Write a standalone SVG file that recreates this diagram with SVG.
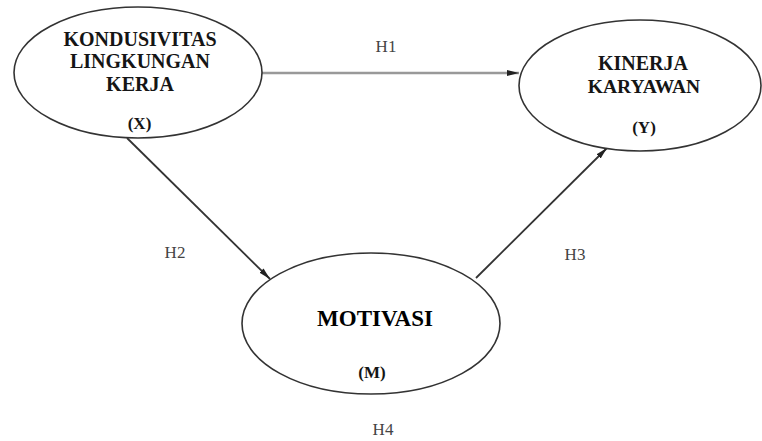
<svg xmlns="http://www.w3.org/2000/svg" width="762" height="441" viewBox="0 0 762 441">
<defs>
<style>
.node ellipse{fill:#fff;stroke:#333;stroke-width:1.6}
.t{font-family:'Liberation Serif','DejaVu Serif',serif;font-weight:bold;fill:#151515;text-anchor:middle}
.h{font-family:'Liberation Serif','DejaVu Serif',serif;font-size:17px;fill:#444;text-anchor:middle}
.c line{stroke:#333;stroke-width:1.8}
</style>
<marker id="ah" viewBox="0 0 12 6" refX="12" refY="3" markerWidth="12" markerHeight="6" markerUnits="userSpaceOnUse" orient="auto">
<path d="M0,0 L12,3 L0,6 z" fill="#222"/>
</marker>
</defs>
<rect width="762" height="441" fill="#fff"/>
<g id="connectors" class="c">
<line x1="262" y1="73" x2="519" y2="73" style="stroke:#999;stroke-width:2.4" marker-end="url(#ah)"/>
<line x1="127" y1="138" x2="270" y2="279" marker-end="url(#ah)"/>
<line x1="476" y1="278" x2="607" y2="148" marker-end="url(#ah)"/>
</g>
<g id="node-x" class="node">
<ellipse cx="138" cy="72.5" rx="124" ry="65.5"/>
<text class="t" x="140" y="46" font-size="20">KONDUSIVITAS</text>
<text class="t" x="140" y="68" font-size="20">LINGKUNGAN</text>
<text class="t" x="140" y="91" font-size="20">KERJA</text>
<text class="t" x="139.5" y="129" font-size="17">(X)</text>
</g>
<g id="node-y" class="node">
<ellipse cx="640" cy="85.5" rx="121" ry="65.5"/>
<text class="t" x="643" y="70" font-size="20">KINERJA</text>
<text class="t" x="644" y="93" font-size="19.5">KARYAWAN</text>
<text class="t" x="644" y="133" font-size="17">(Y)</text>
</g>
<g id="node-m" class="node">
<ellipse cx="371" cy="323.5" rx="129" ry="70.5"/>
<text class="t" x="375" y="326" font-size="23" style="fill:#000">MOTIVASI</text>
<text class="t" x="372" y="378" font-size="17">(M)</text>
</g>
<g id="labels">
<text class="h" x="386" y="52">H1</text>
<text class="h" x="175" y="258">H2</text>
<text class="h" x="575" y="260">H3</text>
<text class="h" x="383" y="435">H4</text>
</g>
</svg>
